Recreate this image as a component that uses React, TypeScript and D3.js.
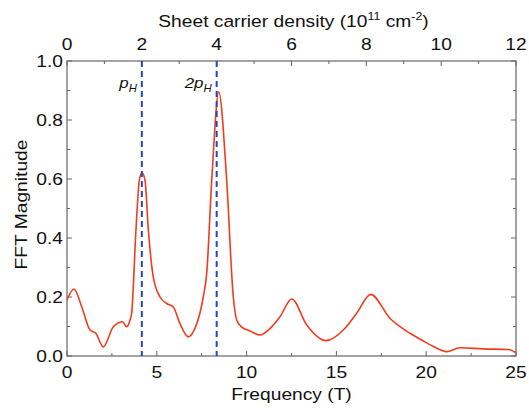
import React from "react";
import * as d3 from "d3";

const freq = [0, 0.39, 0.82, 1.28, 1.6, 2.02, 2.58, 3.1, 3.32, 3.51, 3.6, 3.84, 4.03, 4.18, 4.34, 4.53, 4.8, 5.18, 5.55, 5.92, 6.29, 6.75, 7.1, 7.4, 7.59, 7.78, 8.06, 8.45, 8.89, 9.26, 9.45, 9.73, 10.19, 10.75, 11.3, 11.86, 12.51, 13.35, 14.42, 15.48, 16.13, 16.91, 17.98, 19.1, 19.75, 20.4, 21.14, 21.88, 23.18, 24.57, 25];
const magnitude = [0.19, 0.227, 0.167, 0.088, 0.077, 0.031, 0.099, 0.116, 0.099, 0.122, 0.145, 0.427, 0.597, 0.62, 0.597, 0.427, 0.269, 0.2, 0.178, 0.166, 0.11, 0.065, 0.09, 0.145, 0.2, 0.281, 0.597, 0.895, 0.597, 0.2, 0.122, 0.098, 0.085, 0.071, 0.093, 0.133, 0.193, 0.105, 0.052, 0.094, 0.145, 0.209, 0.128, 0.077, 0.054, 0.032, 0.015, 0.028, 0.024, 0.022, 0.011];
const densityMarks = [2, 4];
const markLabels = ["p", "2p"];
const bottomTicks = [0, 5, 10, 15, 20, 25];
const topTicks = [0, 2, 4, 6, 8, 10, 12];
const yTicks = [0, 0.2, 0.4, 0.6, 0.8, 1.0];

const W = 529, H = 408;
const L = 67, R = 516, T = 61, B = 356;
const axisColor = "#666";
const font = "Liberation Sans, Arial, sans-serif";
const SX = 1.13;

function Txt(props: { x: number; y: number; anchor?: string; size?: number; rotate?: boolean; italic?: boolean; children: React.ReactNode }) {
  const { x, y, anchor = "middle", size = 17, rotate = false, italic = false, children } = props;
  const tr = rotate
    ? `translate(${x},${y}) rotate(-90) scale(${SX},1)`
    : `translate(${x},${y}) scale(${SX},1)`;
  return (
    <text transform={tr} textAnchor={anchor} fontSize={size} fill="#111" fontStyle={italic ? "italic" : "normal"}>
      {children}
    </text>
  );
}

export default function App() {
  const x = d3.scaleLinear().domain([0, 25]).range([L, R]);
  const xTop = d3.scaleLinear().domain([0, 12]).range([L, R]);
  const y = d3.scaleLinear().domain([0, 1]).range([B, T]);
  const line = d3
    .line<number>()
    .x((_, i) => x(freq[i]))
    .y((d) => y(d))
    .curve(d3.curveMonotoneX);

  const bottomMinor = d3.range(0, 25.01, 2.5);
  const topMinor = d3.range(0, 12.01, 1);
  const yMinor = d3.range(0, 1.001, 0.1);

  return (
    <svg width={W} height={H} style={{ position: "absolute", left: 0, top: 0, background: "#fff" }} fontFamily={font}>
      <rect x={L} y={T} width={R - L} height={B - T} fill="none" stroke={axisColor} strokeWidth={1.2} />
      {bottomMinor.map((v, i) => {
        const major = bottomTicks.includes(v);
        return <line key={"b" + i} x1={x(v)} x2={x(v)} y1={B} y2={B - (major ? 5 : 3)} stroke={axisColor} />;
      })}
      {topMinor.map((v, i) => {
        const major = topTicks.includes(v);
        return <line key={"t" + i} x1={xTop(v)} x2={xTop(v)} y1={T} y2={T + (major ? 5 : 3)} stroke={axisColor} />;
      })}
      {yMinor.map((v, i) => {
        const major = i % 2 === 0;
        return (
          <g key={"y" + i}>
            <line x1={L} x2={L + (major ? 5 : 3)} y1={y(v)} y2={y(v)} stroke={axisColor} />
            <line x1={R} x2={R - (major ? 5 : 3)} y1={y(v)} y2={y(v)} stroke={axisColor} />
          </g>
        );
      })}
      {bottomTicks.map((v) => (
        <Txt key={"bl" + v} x={x(v)} y={378}>{v}</Txt>
      ))}
      {topTicks.map((v) => (
        <Txt key={"tl" + v} x={xTop(v)} y={50}>{v}</Txt>
      ))}
      {yTicks.map((v) => (
        <Txt key={"yl" + v} x={63} y={y(v) + 6} anchor="end">{v.toFixed(1)}</Txt>
      ))}
      <Txt x={(L + R) / 2} y={400}>Frequency (T)</Txt>
      <Txt x={27} y={(T + B) / 2 - 4} rotate>FFT Magnitude</Txt>
      <Txt x={(L + R) / 2 + 2} y={27}>
        Sheet carrier density (10<tspan fontSize={11} dy={-7}>11</tspan>
        <tspan dy={7}> cm</tspan>
        <tspan fontSize={11} dy={-7}>-2</tspan>
        <tspan dy={7}>)</tspan>
      </Txt>
      <path d={line(magnitude) || ""} fill="none" stroke="#f23c1c" strokeWidth={1.6} />
      {densityMarks.map((d, i) => (
        <g key={"m" + i}>
          <line x1={xTop(d)} x2={xTop(d)} y1={T} y2={B} stroke="#2347c0" strokeWidth={2} strokeDasharray="6,4" />
          <Txt x={xTop(d) - 5} y={88} anchor="end" size={15} italic>
            {markLabels[i]}
            <tspan fontSize={10} dy={4}>H</tspan>
          </Txt>
        </g>
      ))}
    </svg>
  );
}
